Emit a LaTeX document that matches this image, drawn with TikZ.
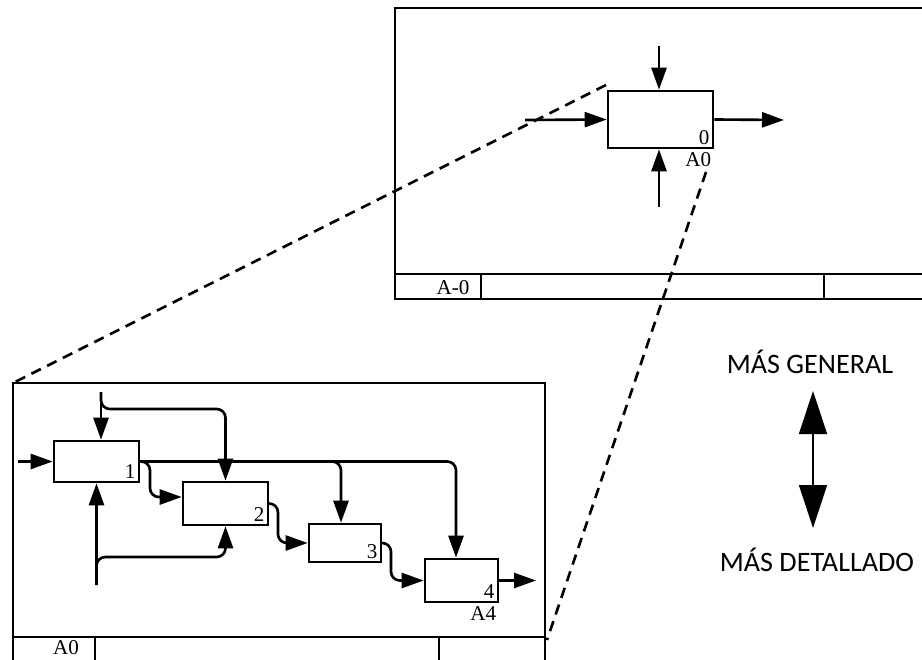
\documentclass[tikz,border=0pt]{standalone}
\usepackage{fontspec}
\setmainfont{Liberation Serif}
\newfontfamily\sidefont{Carlito}
\usetikzlibrary{arrows.meta,calc}

\begin{document}
\begin{tikzpicture}[x=0.02cm,y=-0.02cm,line width=1.5pt,
    caja/.style={draw,line width=1.5pt,inner sep=0pt},
    flecha/.style={-{Triangle[length=0.44cm,width=0.3cm]},rounded corners=5pt},
    num/.style={font=\fontsize{12}{14}\selectfont,inner sep=2pt},
    rayas/.style={dash pattern=on 6pt off 4pt},
    lado/.style={font=\sidefont\fontsize{16}{18}\selectfont},
    doble/.style={line width=0.8pt,{Triangle[length=0.86cm,width=0.56cm]}-{Triangle[length=0.86cm,width=0.56cm]}}]
  \useasboundingbox (0,0) rectangle (922,659);

  % hoja A-0
  \draw (940,8) -- (395,8) -- (395,299) -- (940,299);
  \draw (395,274) -- (940,274);
  \draw (481,274) -- (481,299);
  \draw (824,274) -- (824,299);
  \node[num] (tA-0) at (453,288) {A-0};

  \node[caja,minimum width=2.1cm,minimum height=1.14cm] (a0) at (660.5,119.5) {};
  \node[num,anchor=south east] (n0) at (a0.south east) {0};
  \node[num,anchor=north east,inner sep=1pt] (nA0) at (a0.south east) {A0};
  \coordinate (e0) at (525,120);
  \coordinate (s0) at (784,120);
  \coordinate (c0) at (659,46);
  \coordinate (m0) at (659,207);
  \draw[flecha] (e0) -- (a0.west);
  \draw[flecha] (a0.east) -- (s0);
  \draw[flecha] (c0) -- (c0 |- a0.north);
  \draw[flecha] (m0) -- (m0 |- a0.south);

  % hoja A0
  \draw (13,665) -- (13,383) -- (545,383) -- (545,665);
  \draw (13,637) -- (545,637);
  \draw (95,637) -- (95,665);
  \draw (439,637) -- (439,665);
  \node[num] (tA0) at (66,648) {A0};

  \foreach \n/\x/\y/\w/\h in {1/96.5/461.5/1.7/0.82, 2/225.5/503.5/1.7/0.86,
      3/345/543/1.44/0.76, 4/461.5/580.5/1.46/0.86}{
    \node[caja,minimum width=\w cm,minimum height=\h cm] (b\n) at (\x,\y) {};
    \node[num,anchor=south east] (n\n) at (b\n.south east) {\n};
  }
  \node[num,anchor=north east,inner sep=1pt] (nA4) at (b4.south east) {A4};

  \coordinate (e1) at (18,461.5);
  \coordinate (c1) at (101,392);
  \coordinate (m1) at (96.5,585);
  \coordinate (s4) at (536,580.5);
  \draw[flecha] (e1) -- (b1.west);
  \draw[flecha] (c1) -- (c1 |- b1.north);
  \draw[flecha] (c1) -- (101,409) -- (b2.north |- 0,409) -- (b2.north);
  \draw[flecha] (m1) -- (b1.south);
  \draw[flecha] (m1) -- (96.5,557) -- (b2.south |- 0,557) -- (b2.south);
  \draw[flecha] (b1.east) -- (456,461.5) -- (456,0 |- b4.north);
  \draw[flecha] (b1.east) -- (341,461.5) -- (341,0 |- b3.north);
  \draw[flecha] (b1.east) -- (150,461.5) -- (150,497) -- (b2.west |- 0,497);
  \draw[flecha] (b2.east) -- (278,503.5) -- (278,543) -- (b3.west);
  \draw[flecha] (b3.east) -- (391,543) -- (391,580.5) -- (b4.west);
  \draw[flecha] (b4.east) -- (s4);

  % lineas de detalle
  \coordinate (d1) at (606,85);
  \coordinate (d2) at (13,383);
  \coordinate (d3) at (706,172);
  \coordinate (d4) at (547,640);
  \draw[rayas] (d1) -- (d2);
  \draw[rayas] (d3) -- (d4);

  \node[lado] (gen) at (810,362) {MÁS GENERAL};
  \node[lado] (det) at (817,560) {MÁS DETALLADO};
  \draw[doble,shorten <=0.2cm,shorten >=0.26cm] (813,0 |- gen.south) -- (813,0 |- det.north);
\end{tikzpicture}
\end{document}
